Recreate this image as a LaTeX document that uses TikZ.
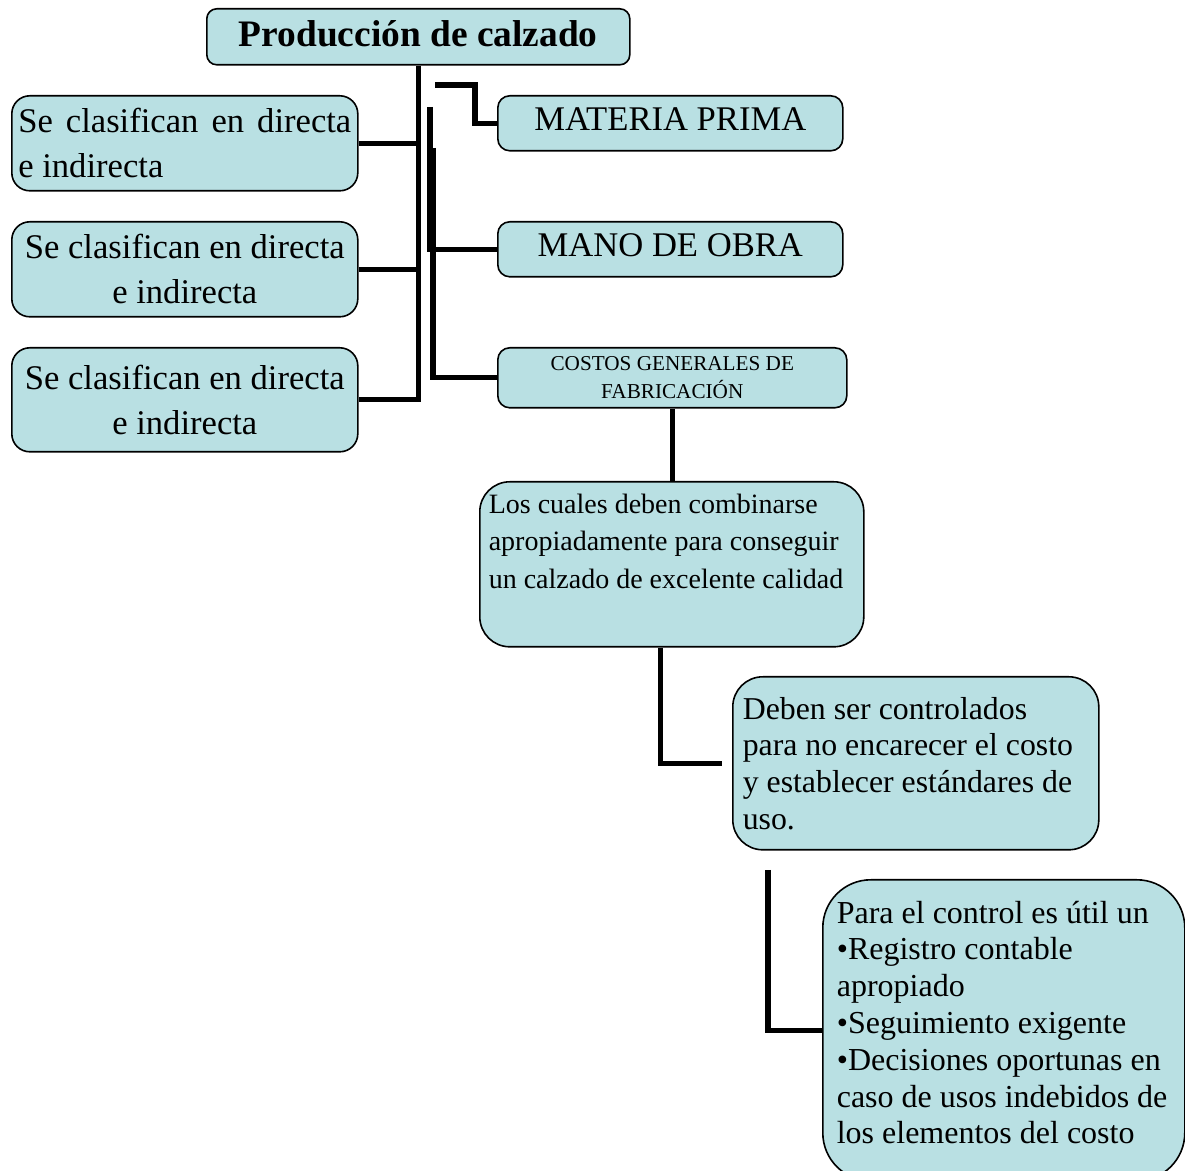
\documentclass[tikz,border=0pt]{standalone}
\usepackage{fontspec}
\setmainfont{Liberation Serif}
\definecolor{cajafondo}{RGB}{185,224,227}

\begin{document}
\begin{tikzpicture}[x=0.5pt,y=-0.5pt,
  caja/.style={draw=black,line width=0.8pt,fill=cajafondo,rounded corners=#1,
    anchor=north west,inner sep=3pt},
  caja/.default=8pt,
  linea/.style={line width=2.6pt}]
\clip (0,0) rectangle (1185,1171);

% titulo
\node[caja=5pt,minimum width=211.5pt,minimum height=28pt,text depth=3pt,
  font=\fontsize{18.7}{22}\selectfont\bfseries] (titulo) at (206,8) {Producción de calzado};

% izquierda
\node[caja=9pt,minimum width=173pt,minimum height=47.5pt,align=left,
  font=\fontsize{17.3}{22.5}\selectfont] (clasif1) at (11,95)
  {\makebox[166.5pt][s]{Se clasifican en directa}\\e indirecta};
\node[caja=9pt,minimum width=173pt,minimum height=47.5pt,align=center,
  font=\fontsize{17.3}{22.5}\selectfont] (clasif2) at (11,221) {Se clasifican en directa\\e indirecta};
\node[caja=9pt,minimum width=173pt,minimum height=52pt,align=center,
  font=\fontsize{17.3}{22.5}\selectfont] (clasif3) at (11,347) {Se clasifican en directa\\e indirecta};

% derecha
\node[caja=6pt,minimum width=172.5pt,minimum height=27.5pt,text depth=4pt,
  font=\fontsize{17.3}{20}\selectfont] (materia) at (497,95) {MATERIA PRIMA};
\node[caja=6pt,minimum width=172.5pt,minimum height=27.5pt,text depth=4pt,
  font=\fontsize{17.3}{20}\selectfont] (mano) at (497,221) {MANO DE OBRA};
\node[caja=6pt,minimum width=174.5pt,minimum height=30pt,align=center,
  font=\fontsize{10.6}{14}\selectfont] (costos) at (497,347) {COSTOS GENERALES DE\\FABRICACIÓN};

\node[caja=15pt,inner xsep=4.5pt,inner ysep=6pt,font=\fontsize{14}{18.75}\selectfont] (cuales) at (479,481)
  {\parbox[t][70.5pt][t]{183pt}{\raggedright Los cuales deben combinarse\\apropiadamente para conseguir\\un calzado de excelente calidad}};
\node[caja=15pt,minimum width=183pt,minimum height=86.5pt,inner xsep=5pt,
  font=\fontsize{15.9}{18.3}\selectfont] (deben) at (732,676)
  {\parbox{173pt}{\raggedright Deben ser controlados\\para no encarecer el costo\\y establecer estándares de\\uso.}};
\node[caja=24pt,inner xsep=7pt,inner ysep=10.5pt,font=\fontsize{16}{18.4}\selectfont] (para) at (822,879)
  {\parbox[t][129.5pt][t]{167pt}{\raggedright Para el control es útil un\\•Registro contable\\apropiado\\•Seguimiento exigente\\•Decisiones oportunas en\\caso de usos indebidos de\\los elementos del costo}};

% conectores
\coordinate (inicioA) at (435,85);
\coordinate (inicioB) at (430,107);
\coordinate (inicioC) at (433,148);
\coordinate (inicioD) at (768,870);

\draw[linea] (titulo.south) |- (clasif3.east);
\draw[linea] (clasif1.east) -- (clasif1.east -| titulo.south);
\draw[linea] (clasif2.east) -- (clasif2.east -| titulo.south);

\draw[linea] (inicioA) -| ([xshift=-11pt]materia.west) -- (materia.west);
\draw[linea] (inicioB) |- (mano.west);
\draw[linea] (inicioC) |- (costos.west);
\draw[linea] (costos.south) -- (costos.south |- cuales.north);
\draw[linea] ([xshift=-5.5pt]cuales.south) |- ([xshift=-5pt]deben.west);
\draw[linea] (inicioD) |- (para.west);

\end{tikzpicture}
\end{document}
